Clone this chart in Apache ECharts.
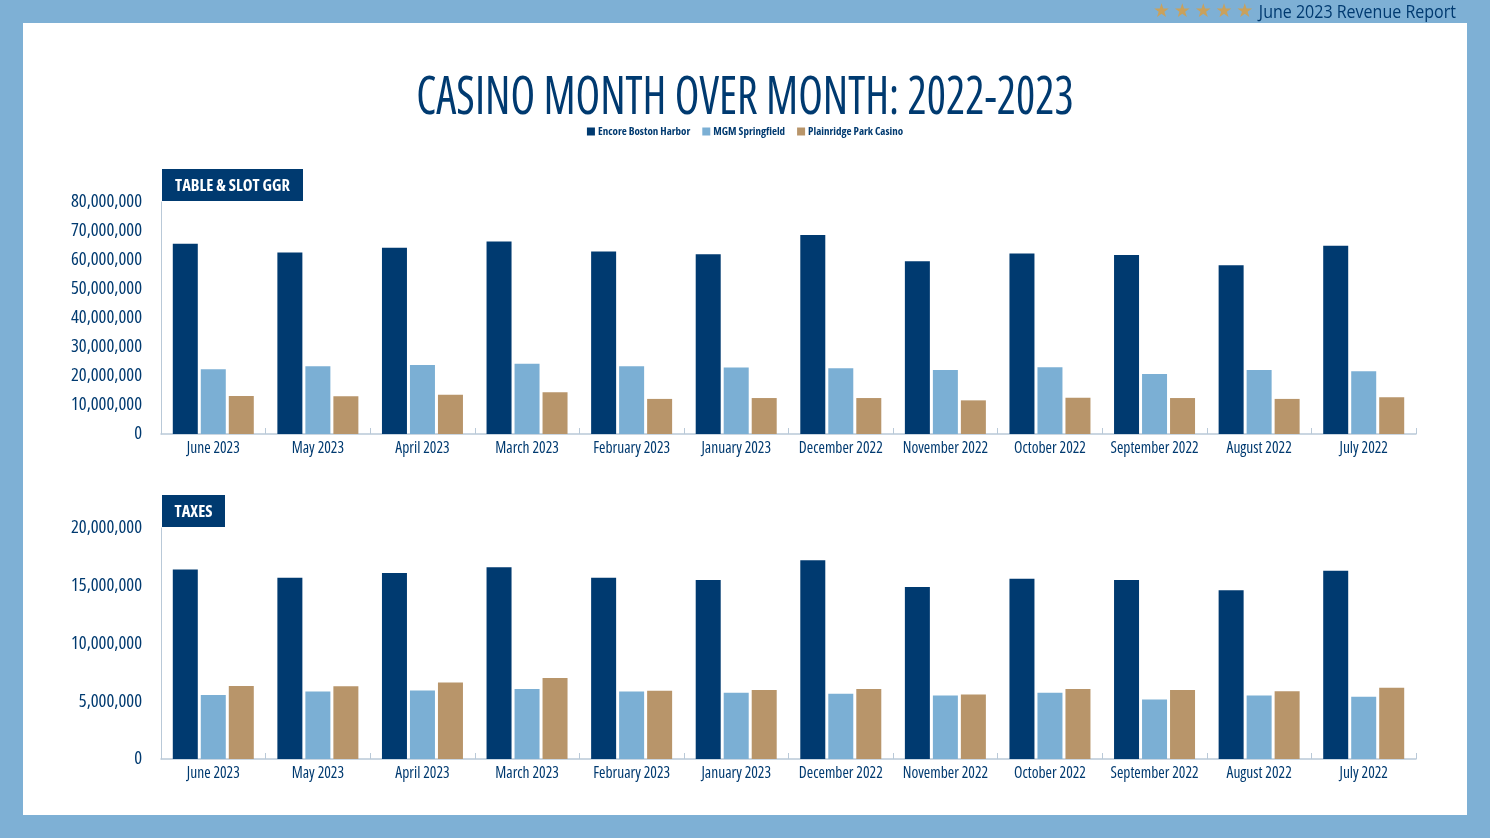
<!DOCTYPE html>
<html>
<head>
<meta charset="utf-8">
<script src="https://cdn.jsdelivr.net/npm/echarts@6/dist/echarts.min.js"></script>
<style>
html,body{margin:0;padding:0;background:#7EB0D5;}
#chart{width:1490px;height:838px;}
</style>
</head>
<body>
<div id="chart"></div>
<script>
const months = ["June 2023","May 2023","April 2023","March 2023","February 2023","January 2023","December 2022","November 2022","October 2022","September 2022","August 2022","July 2022"];
const seriesNames = ["Encore Boston Harbor","MGM Springfield","Plainridge Park Casino"];
const ggrEncore = [65600000,62600000,64200000,66400000,62900000,62000000,68600000,59600000,62200000,61700000,58200000,64900000];
const ggrMGM = [22300000,23400000,23800000,24200000,23400000,22900000,22700000,22100000,23000000,20700000,22100000,21600000];
const ggrPPC = [13100000,13000000,13500000,14400000,12100000,12400000,12400000,11600000,12500000,12400000,12100000,12700000];
const taxEncore = [16400000,15700000,16100000,16600000,15700000,15500000,17200000,14900000,15600000,15500000,14600000,16300000];
const taxMGM = [5550000,5840000,5930000,6050000,5840000,5730000,5640000,5490000,5730000,5150000,5490000,5380000];
const taxPPC = [6330000,6300000,6620000,7020000,5900000,5980000,6050000,5580000,6070000,5980000,5870000,6160000];
const ggrTicks = {min:0,max:80000000,interval:10000000};
const taxTicks = {min:0,max:20000000,interval:5000000};

const NAVY = "#003A70", LBLUE = "#7BAFD4", TAN = "#B8956A";
const colors = [NAVY, LBLUE, TAN];
const FONT = "'Open Sans','Noto Sans',sans-serif";
const COND = "condensed";
const fmt = v => v.toLocaleString("en-US");

const chart = echarts.init(document.getElementById("chart"));

function yAxis(idx, t){
  return {
    type:"value", gridIndex:idx, min:t.min, max:t.max, interval:t.interval,
    axisLine:{show:true,lineStyle:{color:"#B9C9D8",width:1}},
    axisTick:{show:false},
    splitLine:{show:false},
    axisLabel:{color:NAVY,fontFamily:FONT,fontStyle:COND,fontWeight:500,fontSize:18.5,margin:19,formatter:fmt}
  };
}
function xAxis(idx){
  return {
    type:"category", gridIndex:idx, data:months,
    axisLine:{lineStyle:{color:"#B9C9D8",width:1.5}},
    axisTick:{show:true,inside:true,length:6,lineStyle:{color:"#B9C9D8"}},
    axisLabel:{color:NAVY,fontFamily:FONT,fontStyle:COND,fontWeight:500,fontSize:15.5,margin:7,interval:0}
  };
}
function bars(idx, arrs){
  return arrs.map((d,i)=>({
    name:seriesNames[i], type:"bar", xAxisIndex:idx, yAxisIndex:idx, data:d,
    barWidth:25, barGap:"12%",
    itemStyle:{color:colors[i]}
  }));
}
function headerBox(x,y,w,h,text){
  return {type:"group",children:[
    {type:"rect",shape:{x:x,y:y,width:w,height:h},style:{fill:NAVY}},
    {type:"text",x:x+w/2,y:y+h/2+1,style:{text:text,fill:"#fff",font:COND+" bold 16.5px "+FONT,textAlign:"center",textVerticalAlign:"middle"}}
  ]};
}

chart.setOption({
  animation:false,
  color:colors,
  graphic:[
    {type:"rect",z:-10,shape:{x:23,y:23,width:1444,height:792},style:{fill:"#fff"}},
    {type:"text",x:1456,y:13,scaleX:0.89,style:{text:"June 2023 Revenue Report",fill:NAVY,font:"18px "+FONT,textAlign:"right",textVerticalAlign:"middle"}},
    {type:"text",x:1153,y:12,style:{text:"★\u2009★\u2009★\u2009★\u2009★",fill:"#C9A15C",font:"19px 'DejaVu Sans',sans-serif",textVerticalAlign:"middle"}},
    {type:"text",x:745,y:99,scaleX:0.853,style:{text:"CASINO MONTH OVER MONTH: 2022-2023",fill:NAVY,font:COND+" 400 53px "+FONT,textAlign:"center",textVerticalAlign:"middle"}},
    headerBox(162,169,141,32,"TABLE & SLOT GGR"),
    headerBox(162,495,63,32,"TAXES")
  ],
  legend:{data:seriesNames,top:121,left:"center",icon:"rect",itemWidth:8,itemHeight:8,itemGap:12,
    textStyle:{color:NAVY,fontFamily:FONT,fontStyle:COND,fontSize:11,fontWeight:"bold",padding:[0,0,0,-2]}},
  grid:[
    {left:161,right:74,top:202,height:232},
    {left:161,right:74,top:528,height:231}
  ],
  xAxis:[xAxis(0),xAxis(1)],
  yAxis:[yAxis(0,ggrTicks),yAxis(1,taxTicks)],
  series:[...bars(0,[ggrEncore,ggrMGM,ggrPPC]),...bars(1,[taxEncore,taxMGM,taxPPC])]
});
</script>
</body>
</html>
